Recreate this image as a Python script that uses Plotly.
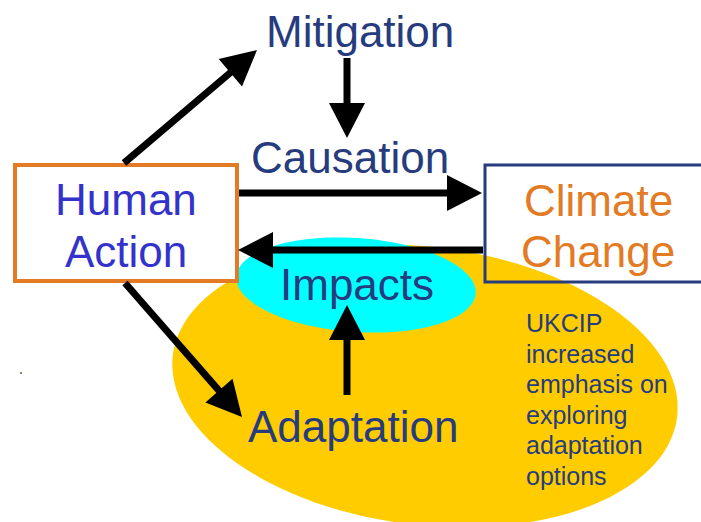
import numpy as np
import plotly.graph_objects as go

# labels and where they sit (pixel space of a 701x522 slide)
node_labels = ["Mitigation", "Causation", "Impacts", "Adaptation"]
node_x = [360, 350, 357, 353]
node_y = [31, 157, 284, 426]

human_lines = ["Human", "Action"]
human_y = [199, 251]
climate_lines = ["Climate", "Change"]
climate_y = [200, 251]

note_lines = ["UKCIP", "increased", "emphasis on", "exploring", "adaptation", "options"]

# arrows: start -> tip
arrow_from = [(124, 163), (347, 58), (239, 193), (483, 250), (125, 283), (347, 395)]
arrow_to = [(257, 50), (347, 138), (482, 193), (238, 250), (242, 417), (347, 305)]

NAVY = "#263C7E"
BLUE = "#3333CC"
ORANGE = "#E37B25"
FONT = "Liberation Sans, Arial, sans-serif"


def ellipse_path(cx, cy, a, b, deg, n=120):
    t = np.linspace(0, 2 * np.pi, n)
    th = np.radians(deg)
    xs = cx + a * np.cos(t) * np.cos(th) - b * np.sin(t) * np.sin(th)
    ys = cy + a * np.cos(t) * np.sin(th) + b * np.sin(t) * np.cos(th)
    pts = " L".join(f"{x:.1f},{y:.1f}" for x, y in zip(xs, ys))
    return "M" + pts + " Z"


def arrow_shapes(p0, p1, head=35, half=18, width=7):
    (x0, y0), (x1, y1) = p0, p1
    d = np.hypot(x1 - x0, y1 - y0)
    ux, uy = (x1 - x0) / d, (y1 - y0) / d
    bx, by = x1 - ux * head, y1 - uy * head
    px, py = -uy, ux
    tri = (f"M{x1},{y1} L{bx + px * half:.1f},{by + py * half:.1f} "
           f"L{bx - px * half:.1f},{by - py * half:.1f} Z")
    return [
        dict(type="line", x0=x0, y0=y0, x1=bx + ux * 2, y1=by + uy * 2,
             line=dict(color="black", width=width)),
        dict(type="path", path=tri, fillcolor="black", line=dict(width=0)),
    ]


shapes = [
    dict(type="path", path=ellipse_path(425, 386, 254, 139, 7),
         fillcolor="#FFCC00", line=dict(width=0), layer="below"),
    dict(type="path", path=ellipse_path(356, 285, 120, 47, 4),
         fillcolor="#00FFFF", line=dict(width=0), layer="below"),
    dict(type="rect", x0=15, y0=165, x1=237, y1=281, fillcolor="white",
         line=dict(color=ORANGE, width=4)),
    dict(type="rect", x0=485, y0=165, x1=704, y1=282,
         line=dict(color=NAVY, width=3)),
    dict(type="rect", x0=20, y0=372, x1=22, y1=374, fillcolor="#8C8C60",
         line=dict(width=0)),
]
for a, b in zip(arrow_from, arrow_to):
    shapes += arrow_shapes(a, b)

annotations = []
for t, x, y in zip(node_labels, node_x, node_y):
    annotations.append(dict(x=x, y=y, text=t, showarrow=False,
                            font=dict(family=FONT, size=44, color=NAVY)))
for t, y in zip(human_lines, human_y):
    annotations.append(dict(x=126, y=y, text=t, showarrow=False,
                            font=dict(family=FONT, size=44, color=BLUE)))
for t, y in zip(climate_lines, climate_y):
    annotations.append(dict(x=598, y=y, text=t, showarrow=False,
                            font=dict(family=FONT, size=44, color=ORANGE)))
for i, t in enumerate(note_lines):
    annotations.append(dict(x=524, y=323 + i * 30.5, text=t, showarrow=False,
                            xanchor="left",
                            font=dict(family=FONT, size=25, color=NAVY)))

fig = go.Figure()
fig.update_layout(
    width=701, height=522,
    margin=dict(l=0, r=0, t=0, b=0),
    paper_bgcolor="white", plot_bgcolor="white",
    showlegend=False,
    xaxis=dict(range=[0, 701], visible=False, fixedrange=True),
    yaxis=dict(range=[522, 0], visible=False, fixedrange=True),
    shapes=shapes,
    annotations=annotations,
)
fig.write_html("out.html", config=dict(displayModeBar=False),
               post_script="document.body.style.margin='0px';"
                           "document.body.style.overflow='hidden';")
